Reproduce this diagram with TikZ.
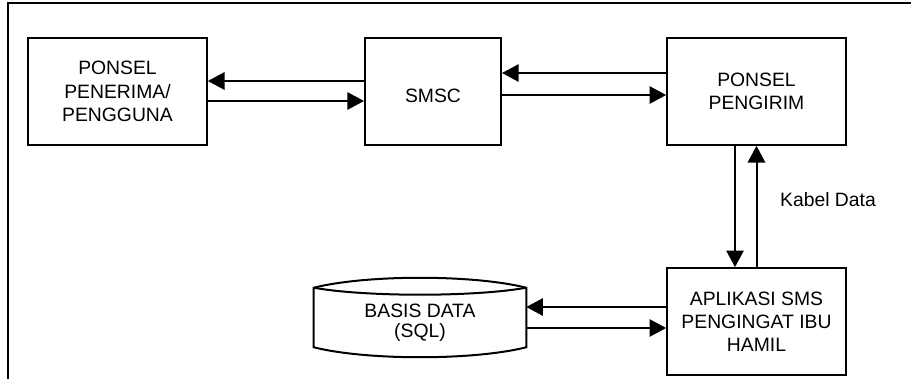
\documentclass[tikz,border=0pt]{standalone}
\usepackage{fontspec}
\newfontfamily\diagfont{Liberation Sans}
\usepackage{tikz}
\usetikzlibrary{arrows.meta}

\begin{document}
\begin{tikzpicture}[x=0.75pt, y=-0.75pt,
    box/.style={draw, line width=1.5pt, align=center, minimum width=134pt, minimum height=80pt,
                font=\diagfont\fontsize{14.5}{17.4}\selectfont},
    flow/.style={line width=1.5pt, -{Triangle[length=12.5pt, width=13pt]}}]
    \useasboundingbox (0,0) rectangle (911,379);

    % Frame
    \draw[line width=1.5pt] (8,379) -- (8,3) -- (911,3);

    % Top row
    \node[box] (penerima) at (117.5,91.5) {PONSEL\\PENERIMA/\\PENGGUNA};
    \node[box, minimum width=102pt] (smsc) at (433,91.5) {\raisebox{-3.5pt}[\height][\depth]{SMSC}};
    \node[box] (pengirim) at (756.5,91.5) {PONSEL\\PENGIRIM};

    % Bottom row
    \node[box] (aplikasi) at (756.5,321.5) {APLIKASI SMS\\PENGINGAT IBU\\HAMIL};
    \node[minimum width=159pt, minimum height=44.25pt, inner sep=0pt,
          font=\diagfont\fontsize{14.5}{14.5}\selectfont] (basis) at (420,317.5)
          {\raisebox{-4.5pt}[\height][\depth]{\begin{tabular}{@{}c@{}}BASIS DATA\\(SQL)\end{tabular}}};
    \draw[line width=1.5pt] (basis.north west)
        .. controls +(53,-13.3) and +(-53,-13.3) .. (basis.north east)
        -- (basis.south east)
        .. controls +(-53,13.3) and +(53,13.3) .. (basis.south west) -- cycle;
    \draw[line width=1.5pt] (basis.north west)
        .. controls +(53,9.3) and +(-53,9.3) .. (basis.north east);

    % Penerima <-> SMSC
    \draw[flow] ([yshift=7.875pt]smsc.west) -- ([yshift=7.875pt]penerima.east);
    \draw[flow] ([yshift=-7.125pt]penerima.east) -- ([yshift=-7.125pt]smsc.west);

    % SMSC <-> Pengirim
    \draw[flow] ([yshift=13.875pt]pengirim.west) -- ([yshift=13.875pt]smsc.east);
    \draw[flow] ([yshift=-2.625pt]smsc.east) -- ([yshift=-2.625pt]pengirim.west);

    % Pengirim <-> Aplikasi
    \draw[flow] ([xshift=-16.125pt]pengirim.south) -- ([xshift=-16.125pt]aplikasi.north);
    \draw[flow] (aplikasi.north) -- (pengirim.south);
    \node[font=\diagfont\fontsize{14.5}{17}\selectfont] (kabel) at (828,200) {Kabel Data};

    % Aplikasi <-> Basis data
    \draw[flow] ([yshift=10.875pt]aplikasi.west) -- ([yshift=7.875pt]basis.east);
    \draw[flow] ([yshift=-7.875pt]basis.east) -- ([yshift=-4.875pt]aplikasi.west);
\end{tikzpicture}
\end{document}
